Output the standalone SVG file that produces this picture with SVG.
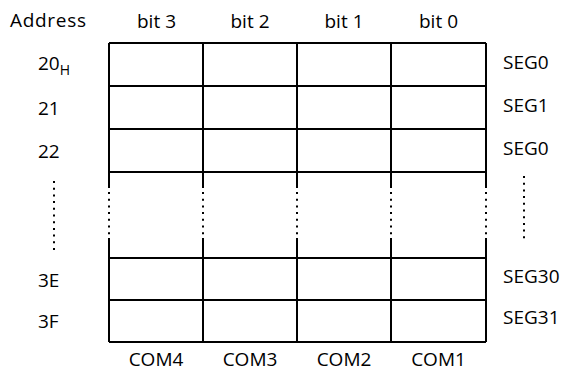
<svg xmlns="http://www.w3.org/2000/svg" width="563" height="373" viewBox="0 0 563 373">
<style>
text{font-family:"Open Sans","Noto Sans",sans-serif;font-size:19px;fill:#000;font-weight:500}
.c{text-anchor:middle}
.ln{stroke:#000;stroke-width:2;fill:none}
.dot{stroke:#000;stroke-width:2;fill:none;stroke-dasharray:2 4.7}
</style>
<rect x="0" y="0" width="563" height="373" fill="#fff"/>
<g id="headers">
<text x="10" y="27" textLength="76">Address</text>
<text class="c" x="156.5" y="28">bit 3</text>
<text class="c" x="250" y="28">bit 2</text>
<text class="c" x="344" y="28">bit 1</text>
<text class="c" x="438.5" y="28">bit 0</text>
</g>
<g id="grid">
<path class="ln" d="M109,43H486M109,86H486M109,129H486M109,172H486M109,258H486M109,300H486M109,342H486"/>
<path class="ln" d="M109,43V188M203,43V188M297,43V188M391,43V188M486,43V188"/>
<path class="ln" d="M109,238V342M203,238V342M297,238V342M391,238V342M486,238V342"/>
<path class="dot" d="M109,192V236M203,192V236M297,192V236M391,192V236M486,192V236"/>
</g>
<g id="addresses">
<text x="38" y="70">20<tspan font-size="14" dy="5">H</tspan></text>
<text x="38" y="115">21</text>
<text x="38" y="158">22</text>
<path class="dot" d="M54,181V250"/>
<text x="38" y="287">3E</text>
<text x="38" y="328">3F</text>
</g>
<g id="segments">
<text x="503" y="69">SEG0</text>
<text x="503" y="112">SEG1</text>
<text x="503" y="155">SEG0</text>
<path class="dot" d="M524,176V243"/>
<text x="503" y="283">SEG30</text>
<text x="503" y="324">SEG31</text>
</g>
<g id="commons">
<text class="c" x="156" y="366">COM4</text>
<text class="c" x="250" y="366">COM3</text>
<text class="c" x="344" y="366">COM2</text>
<text class="c" x="438.5" y="366">COM1</text>
</g>
</svg>
